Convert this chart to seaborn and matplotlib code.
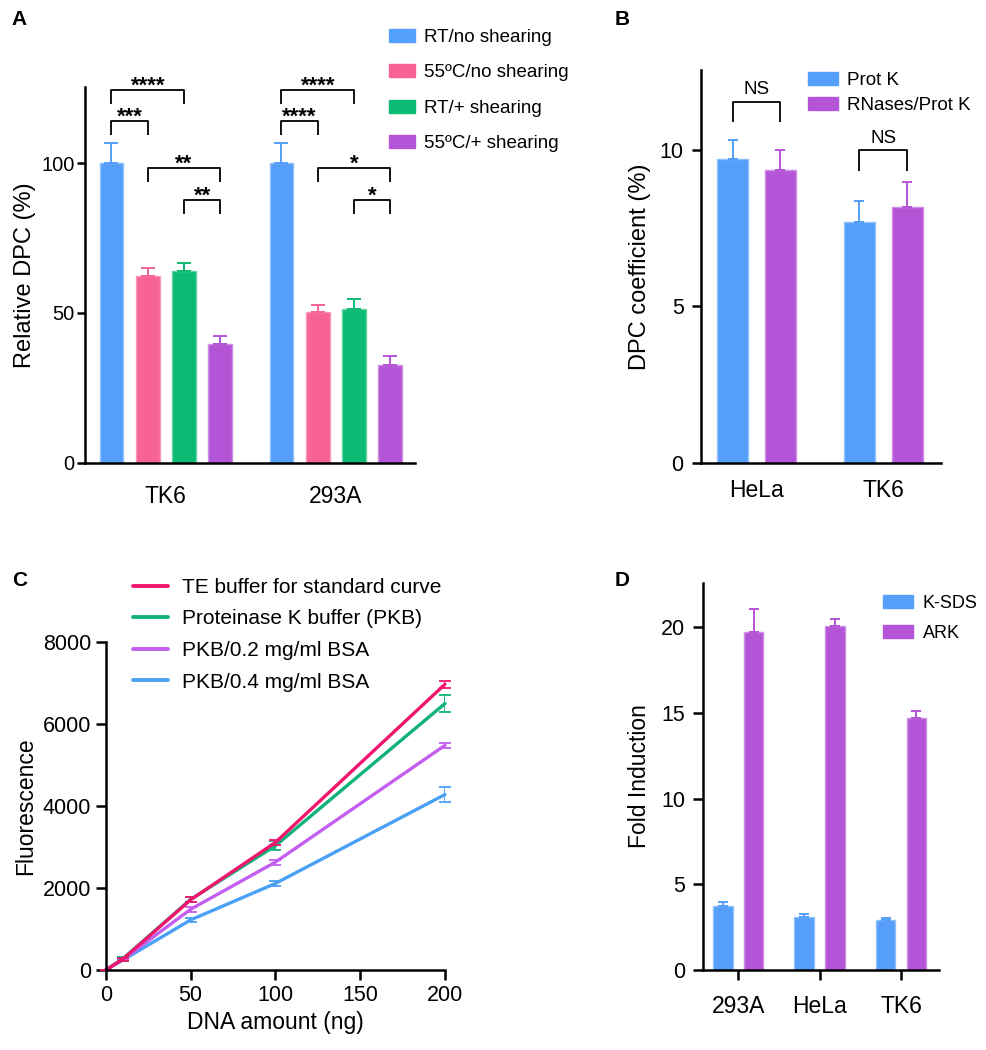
import numpy as np
import pandas as pd
import matplotlib.pyplot as plt
import seaborn as sns
from matplotlib.patches import Patch
from matplotlib.lines import Line2D
from matplotlib.container import BarContainer

# ---- data ----
# A : relative DPC (%)
a_cells = ['TK6', '293A']
a_conds = ['RT/no shearing', '55ºC/no shearing', 'RT/+ shearing', '55ºC/+ shearing']
a_tk6 = [100, 62.3, 63.9, 39.5]
a_tk6_err = [6.7, 2.8, 2.7, 2.8]
a_293a = [100, 50.4, 51.2, 32.6]
a_293a_err = [6.8, 2.2, 3.6, 3.0]
a_pairs = [(0, 2), (0, 1), (1, 3), (2, 3)]
a_sig_tk6 = ['****', '***', '**', '**']
a_sig_293a = ['****', '****', '*', '*']
a_sig_y = [124.4, 114.2, 98.3, 87.7]

# B : DPC coefficient (%)
b_cells = ['HeLa', 'TK6']
b_conds = ['Prot K', 'RNases/Prot K']
b_protk = [9.70, 7.69]
b_protk_err = [0.62, 0.69]
b_rnases = [9.36, 8.19]
b_rnases_err = [0.64, 0.79]
b_sig_y = [11.55, 10.0]

# C : fluorescence standard curves
c_dna = [0, 10, 50, 100, 200]
c_labels = ['TE buffer for standard curve', 'Proteinase K buffer (PKB)',
            'PKB/0.2 mg/ml BSA', 'PKB/0.4 mg/ml BSA']
c_te = [0, 260, 1710, 3110, 6970]
c_te_err = [0, 30, 60, 70, 90]
c_pkb = [0, 270, 1720, 3030, 6500]
c_pkb_err = [0, 40, 50, 110, 200]
c_bsa02 = [0, 250, 1480, 2630, 5480]
c_bsa02_err = [0, 30, 60, 60, 60]
c_bsa04 = [0, 240, 1220, 2110, 4280]
c_bsa04_err = [0, 30, 50, 60, 190]

# D : fold induction
d_cells = ['293A', 'HeLa', 'TK6']
d_conds = ['K-SDS', 'ARK']
d_ksds = [3.73, 3.07, 2.91]
d_ksds_err = [0.26, 0.18, 0.10]
d_ark = [19.76, 20.07, 14.74]
d_ark_err = [1.33, 0.45, 0.41]

blue, pink, green, purple = '#559ef9', '#f76494', '#0cbb73', '#b454d6'

sns.set_style('ticks')
plt.rcParams['font.family'] = ['Liberation Sans', 'DejaVu Sans']
plt.rcParams['axes.linewidth'] = 1.8
for k in ['text.color', 'axes.labelcolor', 'xtick.color', 'ytick.color', 'axes.edgecolor']:
    plt.rcParams[k] = 'black'

fig = plt.figure(figsize=(9.87, 10.5), dpi=100)
W, H = 987, 1050


def px_axes(left, right, top, bottom):
    return fig.add_axes([left / W, 1 - bottom / H, (right - left) / W, (bottom - top) / H])


def lighten(c, f=0.35):
    r, g, b = plt.matplotlib.colors.to_rgb(c)
    return (r + (1 - r) * f, g + (1 - g) * f, b + (1 - b) * f)


def bars_with_err(ax, df, cats, conds, colors, errs, width, gap, capsize):
    sns.barplot(data=df, x='cell', y='val', hue='cond', order=cats, hue_order=conds,
                palette=colors, width=width, gap=gap, errorbar=None, legend=False,
                ax=ax, saturation=1)
    conts = [c for c in ax.containers if isinstance(c, BarContainer)]
    centers = {}
    for i, cont in enumerate(conts):
        for j, bar in enumerate(cont.patches):
            bar.set_edgecolor(lighten(colors[i]))
            bar.set_linewidth(1.0)
            xc = bar.get_x() + bar.get_width() / 2
            centers[(j, i)] = xc
            ax.errorbar(xc, bar.get_height(), yerr=[[0], [errs[j][i]]], fmt='none',
                        ecolor=colors[i], elinewidth=1.4, capsize=capsize,
                        capthick=1.4, zorder=1)
    return centers


def bracket(ax, x1, x2, top, leg, label, fs, bold, dy):
    ax.plot([x1, x1, x2, x2], [top - leg, top, top, top - leg], color='black',
            lw=1.3, clip_on=False, solid_capstyle='butt')
    ax.text((x1 + x2) / 2, top + dy, label, ha='center', va='bottom', fontsize=fs,
            fontweight='bold' if bold else 'normal')


# ---------------- A ----------------
axA = px_axes(85, 415, 87, 462.5)
dfA = pd.DataFrame({'cell': np.repeat(a_cells, 4), 'cond': a_conds * 2,
                    'val': a_tk6 + a_293a})
colA = [blue, pink, green, purple]
cA = bars_with_err(axA, dfA, a_cells, a_conds, colA, [a_tk6_err, a_293a_err],
                   0.854, 0.34, 4.7)
axA.set_xlim(-0.476, 1.465)
axA.set_ylim(0, 125.5)
axA.set_yticks([0, 50, 100])
axA.tick_params(axis='y', labelsize=14.5, length=6, width=1.8, pad=1.5)
axA.tick_params(axis='x', labelsize=16.5, length=0, pad=16)
axA.set_xlabel('')
axA.set_ylabel('Relative DPC (%)', fontsize=17, labelpad=4)
for j, sigs in enumerate([a_sig_tk6, a_sig_293a]):
    for (p, q), s, y in zip(a_pairs, sigs, a_sig_y):
        bracket(axA, cA[(j, p)], cA[(j, q)], y, 4.7, s, 16, True, -2.2)
axA.legend(handles=[Patch(facecolor=c, edgecolor=c) for c in colA], labels=a_conds,
           loc='upper left', bbox_to_anchor=(389 / W, 1 - 29 / H),
           bbox_transform=fig.transFigure, frameon=False, fontsize=13.5,
           handlelength=1.4, handleheight=0.7, handletextpad=0.45,
           labelspacing=0.97, borderpad=0, borderaxespad=0)
sns.despine(ax=axA)

# ---------------- B ----------------
axB = px_axes(701, 940.7, 70.3, 462.7)
dfB = pd.DataFrame({'cell': np.repeat(b_cells, 2), 'cond': b_conds * 2,
                    'val': [b_protk[0], b_rnases[0], b_protk[1], b_rnases[1]]})
colB = [blue, purple]
cB = bars_with_err(axB, dfB, b_cells, b_conds, colB,
                   [[b_protk_err[0], b_rnases_err[0]], [b_protk_err[1], b_rnases_err[1]]],
                   0.754, 0.35, 3.6)
axB.set_xlim(-0.438, 1.453)
axB.set_ylim(0, 12.55)
axB.set_yticks([0, 5, 10])
axB.tick_params(axis='y', labelsize=15.5, length=6.5, width=1.8, pad=6)
axB.tick_params(axis='x', labelsize=16.5, length=0, pad=12)
axB.set_xlabel('')
axB.set_ylabel('DPC coefficient (%)', fontsize=17, labelpad=6)
for j, y in enumerate(b_sig_y):
    bracket(axB, cB[(j, 0)], cB[(j, 1)], y, 0.66, 'NS', 13.5, False, 0.1)
axB.legend(handles=[Patch(facecolor=c, edgecolor=c) for c in colB], labels=b_conds,
           loc='upper left', bbox_to_anchor=(808 / W, 1 - 72 / H),
           bbox_transform=fig.transFigure, frameon=False, fontsize=13.5,
           handlelength=1.6, handleheight=0.7, handletextpad=0.5,
           labelspacing=0.41, borderpad=0, borderaxespad=0)
sns.despine(ax=axB)

# ---------------- C ----------------
axC = px_axes(105.7, 445, 642, 970)
c_cols = ['#f0166e', '#10b27a', '#c45ef0', '#4aa0f5']
c_vals = [c_te, c_pkb, c_bsa02, c_bsa04]
c_errs = [c_te_err, c_pkb_err, c_bsa02_err, c_bsa04_err]
for vals, errs, col in list(zip(c_vals, c_errs, c_cols))[::-1]:
    sns.lineplot(x=c_dna, y=vals, color=col, lw=2.4, ax=axC, errorbar=None)
    axC.errorbar(c_dna, vals, yerr=errs, fmt='none', ecolor=col, elinewidth=1.3,
                 capsize=4.3, capthick=1.3)
for ln in axC.lines:
    ln.set_clip_on(False)
axC.set_xlim(0, 200)
axC.set_ylim(0, 8000)
axC.set_xticks([0, 50, 100, 150, 200])
axC.set_yticks([0, 2000, 4000, 6000, 8000])
axC.tick_params(labelsize=15.5, length=7.5, width=1.8, pad=3)
axC.set_xlabel('DNA amount (ng)', fontsize=16.5, labelpad=4)
axC.set_ylabel('Fluorescence', fontsize=16.5, labelpad=4)
axC.legend(handles=[Line2D([], [], color=c, lw=2.8) for c in c_cols], labels=c_labels,
           loc='upper left', bbox_to_anchor=(133 / W, 1 - 578 / H),
           bbox_transform=fig.transFigure, frameon=False, fontsize=15,
           handlelength=1.7, handletextpad=0.65, labelspacing=0.6,
           borderpad=0, borderaxespad=0)
sns.despine(ax=axC)

# ---------------- D ----------------
axD = px_axes(703.3, 939.3, 582.9, 970)
dfD = pd.DataFrame({'cell': np.repeat(d_cells, 2), 'cond': d_conds * 3,
                    'val': [v for pair in zip(d_ksds, d_ark) for v in pair]})
colD = [blue, purple]
bars_with_err(axD, dfD, d_cells, d_conds, colD,
              [list(e) for e in zip(d_ksds_err, d_ark_err)], 0.755, 0.36, 3.6)
axD.set_xlim(-0.43, 2.471)
axD.set_ylim(0, 22.6)
axD.set_yticks([0, 5, 10, 15, 20])
axD.tick_params(axis='y', labelsize=15.5, length=7, width=1.8, pad=6)
axD.tick_params(axis='x', labelsize=16.5, length=7, width=1.8, pad=11)
axD.set_xlabel('')
axD.set_ylabel('Fold Induction', fontsize=16.5, labelpad=7)
axD.legend(handles=[Patch(facecolor=c, edgecolor=c) for c in colD], labels=d_conds,
           loc='upper left', bbox_to_anchor=(883 / W, 1 - 595 / H),
           bbox_transform=fig.transFigure, frameon=False, fontsize=13,
           handlelength=1.65, handleheight=0.7, handletextpad=0.55,
           labelspacing=0.7, borderpad=0, borderaxespad=0)
sns.despine(ax=axD)

# panel letters
for letter, x, y in [('A', 19.5, 19.5), ('B', 622, 19.5), ('C', 19.5, 580), ('D', 622.5, 580)]:
    fig.text(x / W, 1 - y / H, letter, fontsize=15, fontweight='bold', ha='center', va='center')

fig.savefig('out.png', dpi=100)
